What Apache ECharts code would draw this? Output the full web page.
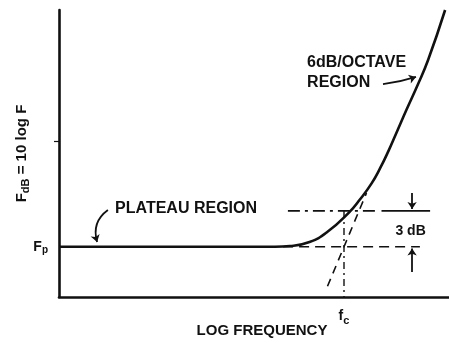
<!DOCTYPE html>
<html>
<head>
<meta charset="utf-8">
<script src="https://cdn.jsdelivr.net/npm/echarts@6/dist/echarts.min.js"></script>
<style>
  html, body { margin: 0; padding: 0; background: #fff; }
  #chart { width: 449px; height: 343px; }
</style>
</head>
<body>
<div id="chart"></div>
<script>
// Noise figure (dB) against log frequency, x in octaves, y in dB.
// Flat plateau at Fp, corner at fc (3 dB up), then a 6 dB/octave rise.
const noiseCurve = [
  [0, 4.2], [7.2, 4.2], [7.7, 4.26], [8.35, 4.6], [8.95, 5.45],
  [9.68, 7.1], [10.03, 8.15], [10.42, 9.5], [10.7, 10.75], [10.98, 12.2],
  [11.26, 13.8], [11.59, 15.7], [11.94, 17.65], [12.3, 19.8], [12.87, 24]
];
const fc = 9.5;
const Fp = 4.2;
const F3dB = 7.2;
const asymptote = [[8.95, 0.9], [10.25, 8.7]];
const plateauGuide = [[7.47, Fp], [12.03, Fp]];
const cornerGuideDashDot = [[7.63, F3dB], [10.65, F3dB]];
const cornerGuideSolid = [[10.75, F3dB], [12.37, F3dB]];
const fcGuide = [[fc, F3dB], [fc, 0]];
const yTickValues = [13];
const yLabelValues = [Fp];
const xLabelValues = [fc];
const arrowMarkX = 11.77;
const arrowsData = [
  { coords: [[1.63, 7.27], [1.27, 4.6]], curve: -0.35 },
  { coords: [[10.8, 17.8], [11.9, 18.4]], curve: -0.05 },
  { coords: [[arrowMarkX, 8.7], [arrowMarkX, 7.35]], curve: 0 },
  { coords: [[arrowMarkX, 2.1], [arrowMarkX, 4.05]], curve: 0 }
];
const notes = [
  { text: 'PLATEAU REGION', at: [1.87, 7.36], align: 'left' },
  { text: '6dB/OCTAVE', at: [8.27, 19.57], align: 'left' },
  { text: 'REGION', at: [8.27, 17.9], align: 'left' },
  { text: '3 dB', at: [11.72, 5.52], align: 'center' }
];

const FONT = 'Liberation Sans';
const INK = '#111';

const chart = echarts.init(document.getElementById('chart'), null, { renderer: 'canvas' });

function guide(data, type, width) {
  return {
    type: 'line', data, symbol: 'none', silent: true,
    lineStyle: { color: INK, width: width || 1.6, type }
  };
}

chart.setOption({
  animation: false,
  backgroundColor: '#fff',
  grid: { left: 59, right: 0, top: 10, bottom: 46, containLabel: false, outerBoundsMode: 'none' },
  xAxis: {
    type: 'value', min: 0, max: 13,
    splitLine: { show: false },
    axisLine: { onZero: false, lineStyle: { color: INK, width: 2.6 } },
    axisTick: { show: false },
    axisLabel: {
      customValues: xLabelValues, margin: 9,
      formatter: () => '{b|f}{s|c}',
      rich: {
        b: { fontFamily: FONT, fontWeight: 'bold', fontSize: 14, color: INK },
        s: { fontFamily: FONT, fontWeight: 'bold', fontSize: 11, color: INK, padding: [9, 0, 0, 0] }
      }
    },
    name: 'LOG FREQUENCY', nameLocation: 'middle', nameGap: 26, nameMoveOverlap: false,
    nameTextStyle: { fontFamily: FONT, fontWeight: 'bold', fontSize: 15, color: INK, padding: [0, 0, 0, 16] }
  },
  yAxis: {
    type: 'value', min: 0, max: 24,
    splitLine: { show: false },
    axisLine: { onZero: false, lineStyle: { color: INK, width: 2.6 } },
    axisTick: { customValues: yTickValues, length: 5, lineStyle: { color: INK, width: 1.2 } },
    axisLabel: {
      customValues: yLabelValues, margin: 11,
      formatter: () => '{b|F}{s|p}',
      rich: {
        b: { fontFamily: FONT, fontWeight: 'bold', fontSize: 14, color: INK },
        s: { fontFamily: FONT, fontWeight: 'bold', fontSize: 10, color: INK, padding: [6, 0, 0, 0] }
      }
    },
    name: '{b|F}{s|dB}{b| = 10 log F}', nameLocation: 'middle', nameGap: 28, nameRotate: 90,
    nameMoveOverlap: false,
    nameTextStyle: {
      rich: {
        b: { fontFamily: FONT, fontWeight: 'bold', fontSize: 15, color: INK },
        s: { fontFamily: FONT, fontWeight: 'bold', fontSize: 11, color: INK, padding: [7, 0, 0, 0] }
      }
    }
  },
  series: [
    guide(plateauGuide, [10, 6]),
    guide(cornerGuideDashDot, [12, 5, 3, 5]),
    guide(cornerGuideSolid, 'solid'),
    guide(fcGuide, [7, 4, 2, 4], 1.4),
    guide(asymptote, [8, 6], 1.6),
    {
      type: 'line', data: noiseCurve, symbol: 'none',
      smooth: 0.5,
      lineStyle: { color: INK, width: 2.6 }
    },
    {
      type: 'lines', coordinateSystem: 'cartesian2d', polyline: false,
      symbol: ['none', 'arrow'], symbolSize: 7,
      data: arrowsData.map(a => ({ coords: a.coords, lineStyle: { curveness: a.curve } })),
      lineStyle: { color: INK, width: 1.8, opacity: 1 }
    },
    {
      type: 'scatter', symbolSize: 0, silent: true,
      itemStyle: { opacity: 1 },
      data: notes.map(n => ({
        value: n.at,
        label: {
          show: true, formatter: n.text,
          position: n.align === 'left' ? 'right' : 'inside',
          distance: 0, align: n.align, verticalAlign: 'middle',
          fontFamily: FONT, fontWeight: 'bold',
          fontSize: n.align === 'left' ? 16 : 14, color: INK
        }
      }))
    }
  ]
});
</script>
</body>
</html>
